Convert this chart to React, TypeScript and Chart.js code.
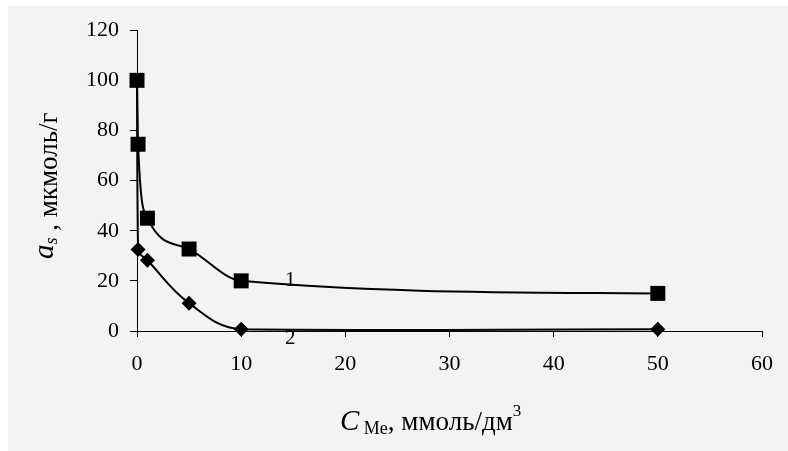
import React, { useEffect, useRef } from "react";
import { Chart, registerables } from "chart.js";

Chart.register(...registerables);

// Series 1 (squares)
const s1X = [0, 0.1, 1, 5, 10, 50];
const s1Y = [100, 74.5, 45, 32.7, 20, 15];
// Series 2 (diamonds)
const s2X = [0, 0.1, 1, 5, 10, 50];
const s2Y = [100, 32.5, 28.2, 11.1, 0.7, 0.7];

const xTicks = [0, 10, 20, 30, 40, 50, 60];
const yTicks = [0, 20, 40, 60, 80, 100, 120];

const curveLabels = ["1", "2"];
const curveLabelX = [14.7, 14.7];
const curveLabelY = [20, -2.8];

const SERIF = '"Liberation Serif", "Times New Roman", serif';

const titlePlugin = {
  id: "customTitles",
  afterDraw(chart: any) {
    const ctx = chart.ctx as CanvasRenderingContext2D;
    const xs = chart.scales.x;
    const ys = chart.scales.y;
    ctx.save();
    ctx.fillStyle = "#000";
    ctx.textAlign = "left";
    ctx.textBaseline = "alphabetic";

    // X axis title: C_Me, ммоль/дм^3
    const xParts = [
      { t: "C", f: `italic 29px ${SERIF}`, dy: 0 },
      { t: " Me", f: `18px ${SERIF}`, dy: 4 },
      { t: ", ммоль/дм", f: `27px ${SERIF}`, dy: 0 },
      { t: "3", f: `17px ${SERIF}`, dy: -14 },
    ];
    let px = 332;
    const xb = 424;
    for (const p of xParts) {
      ctx.font = p.f;
      ctx.fillText(p.t, px, xb + p.dy);
      px += ctx.measureText(p.t).width;
    }

    // Y axis title: a_s , мкмоль/г (rotated)
    ctx.translate(49, 253);
    ctx.rotate(-Math.PI / 2);
    const yParts = [
      { t: "a", f: `italic 29px ${SERIF}`, dy: -4 },
      { t: "s", f: `italic 18px ${SERIF}`, dy: 0 },
      { t: " , мкмоль/г", f: `27px ${SERIF}`, dy: 0 },
    ];
    let py = 0;
    for (const p of yParts) {
      ctx.font = p.f;
      ctx.fillText(p.t, py, p.dy);
      py += ctx.measureText(p.t).width;
    }
    ctx.restore();

    // curve labels
    ctx.save();
    ctx.fillStyle = "#000";
    ctx.font = `21px ${SERIF}`;
    ctx.textAlign = "center";
    ctx.textBaseline = "middle";
    curveLabels.forEach((l, i) => {
      ctx.fillText(l, xs.getPixelForValue(curveLabelX[i]), ys.getPixelForValue(curveLabelY[i]));
    });
    ctx.restore();
  },
};

export default function App() {
  const ref = useRef<HTMLCanvasElement>(null);
  useEffect(() => {
    if (!ref.current) return;
    const chart = new Chart(ref.current, {
      type: "line",
      data: {
        datasets: [
          {
            label: "1",
            data: s1X.map((x, i) => ({ x, y: s1Y[i] })),
            borderColor: "#000",
            backgroundColor: "#000",
            borderWidth: 2,
            pointStyle: "rect",
            pointRadius: 10.6,
            pointBorderWidth: 0,
            cubicInterpolationMode: "monotone",
            clip: false as any,
          },
          {
            label: "2",
            data: s2X.map((x, i) => ({ x, y: s2Y[i] })),
            borderColor: "#000",
            backgroundColor: "#000",
            borderWidth: 2,
            pointStyle: "rectRot",
            pointRadius: s2X.map((_, i) => (i === 0 ? 0 : 7.5)),
            pointBorderWidth: 0,
            tension: 0.4,
            clip: false as any,
          },
        ],
      },
      options: {
        animation: false,
        responsive: false,
        devicePixelRatio: 1,
        layout: { padding: { left: 0, right: 26, top: 20, bottom: 0 } },
        plugins: { legend: { display: false }, tooltip: { enabled: false } },
        scales: {
          x: {
            type: "linear",
            min: 0,
            max: 60,
            afterBuildTicks: (s: any) => {
              s.ticks = xTicks.map((v) => ({ value: v }));
            },
            afterFit: (s: any) => {
              s.height = 120;
            },
            ticks: {
              font: { family: SERIF, size: 22 },
              color: "#000",
              padding: 14,
              maxRotation: 0,
            },
            grid: { display: true, drawOnChartArea: false, drawTicks: true, tickLength: 6, color: "#000" },
            border: { display: true, color: "#000", width: 1 },
          },
          y: {
            type: "linear",
            min: 0,
            max: 120,
            afterBuildTicks: (s: any) => {
              s.ticks = yTicks.map((v) => ({ value: v }));
            },
            afterFit: (s: any) => {
              s.width = 129;
            },
            ticks: {
              font: { family: SERIF, size: 22 },
              color: "#000",
              padding: 11,
            },
            grid: { display: true, drawOnChartArea: false, drawTicks: true, tickLength: 7, color: "#000" },
            border: { display: true, color: "#000", width: 1 },
          },
        },
      },
      plugins: [titlePlugin],
    });
    return () => chart.destroy();
  }, []);
  return (
    <div style={{ position: "absolute", left: 8, top: 6, width: 780, height: 445, background: "#f3f3f3" }}>
      <canvas ref={ref} width={780} height={445} style={{ display: "block" }} />
    </div>
  );
}
